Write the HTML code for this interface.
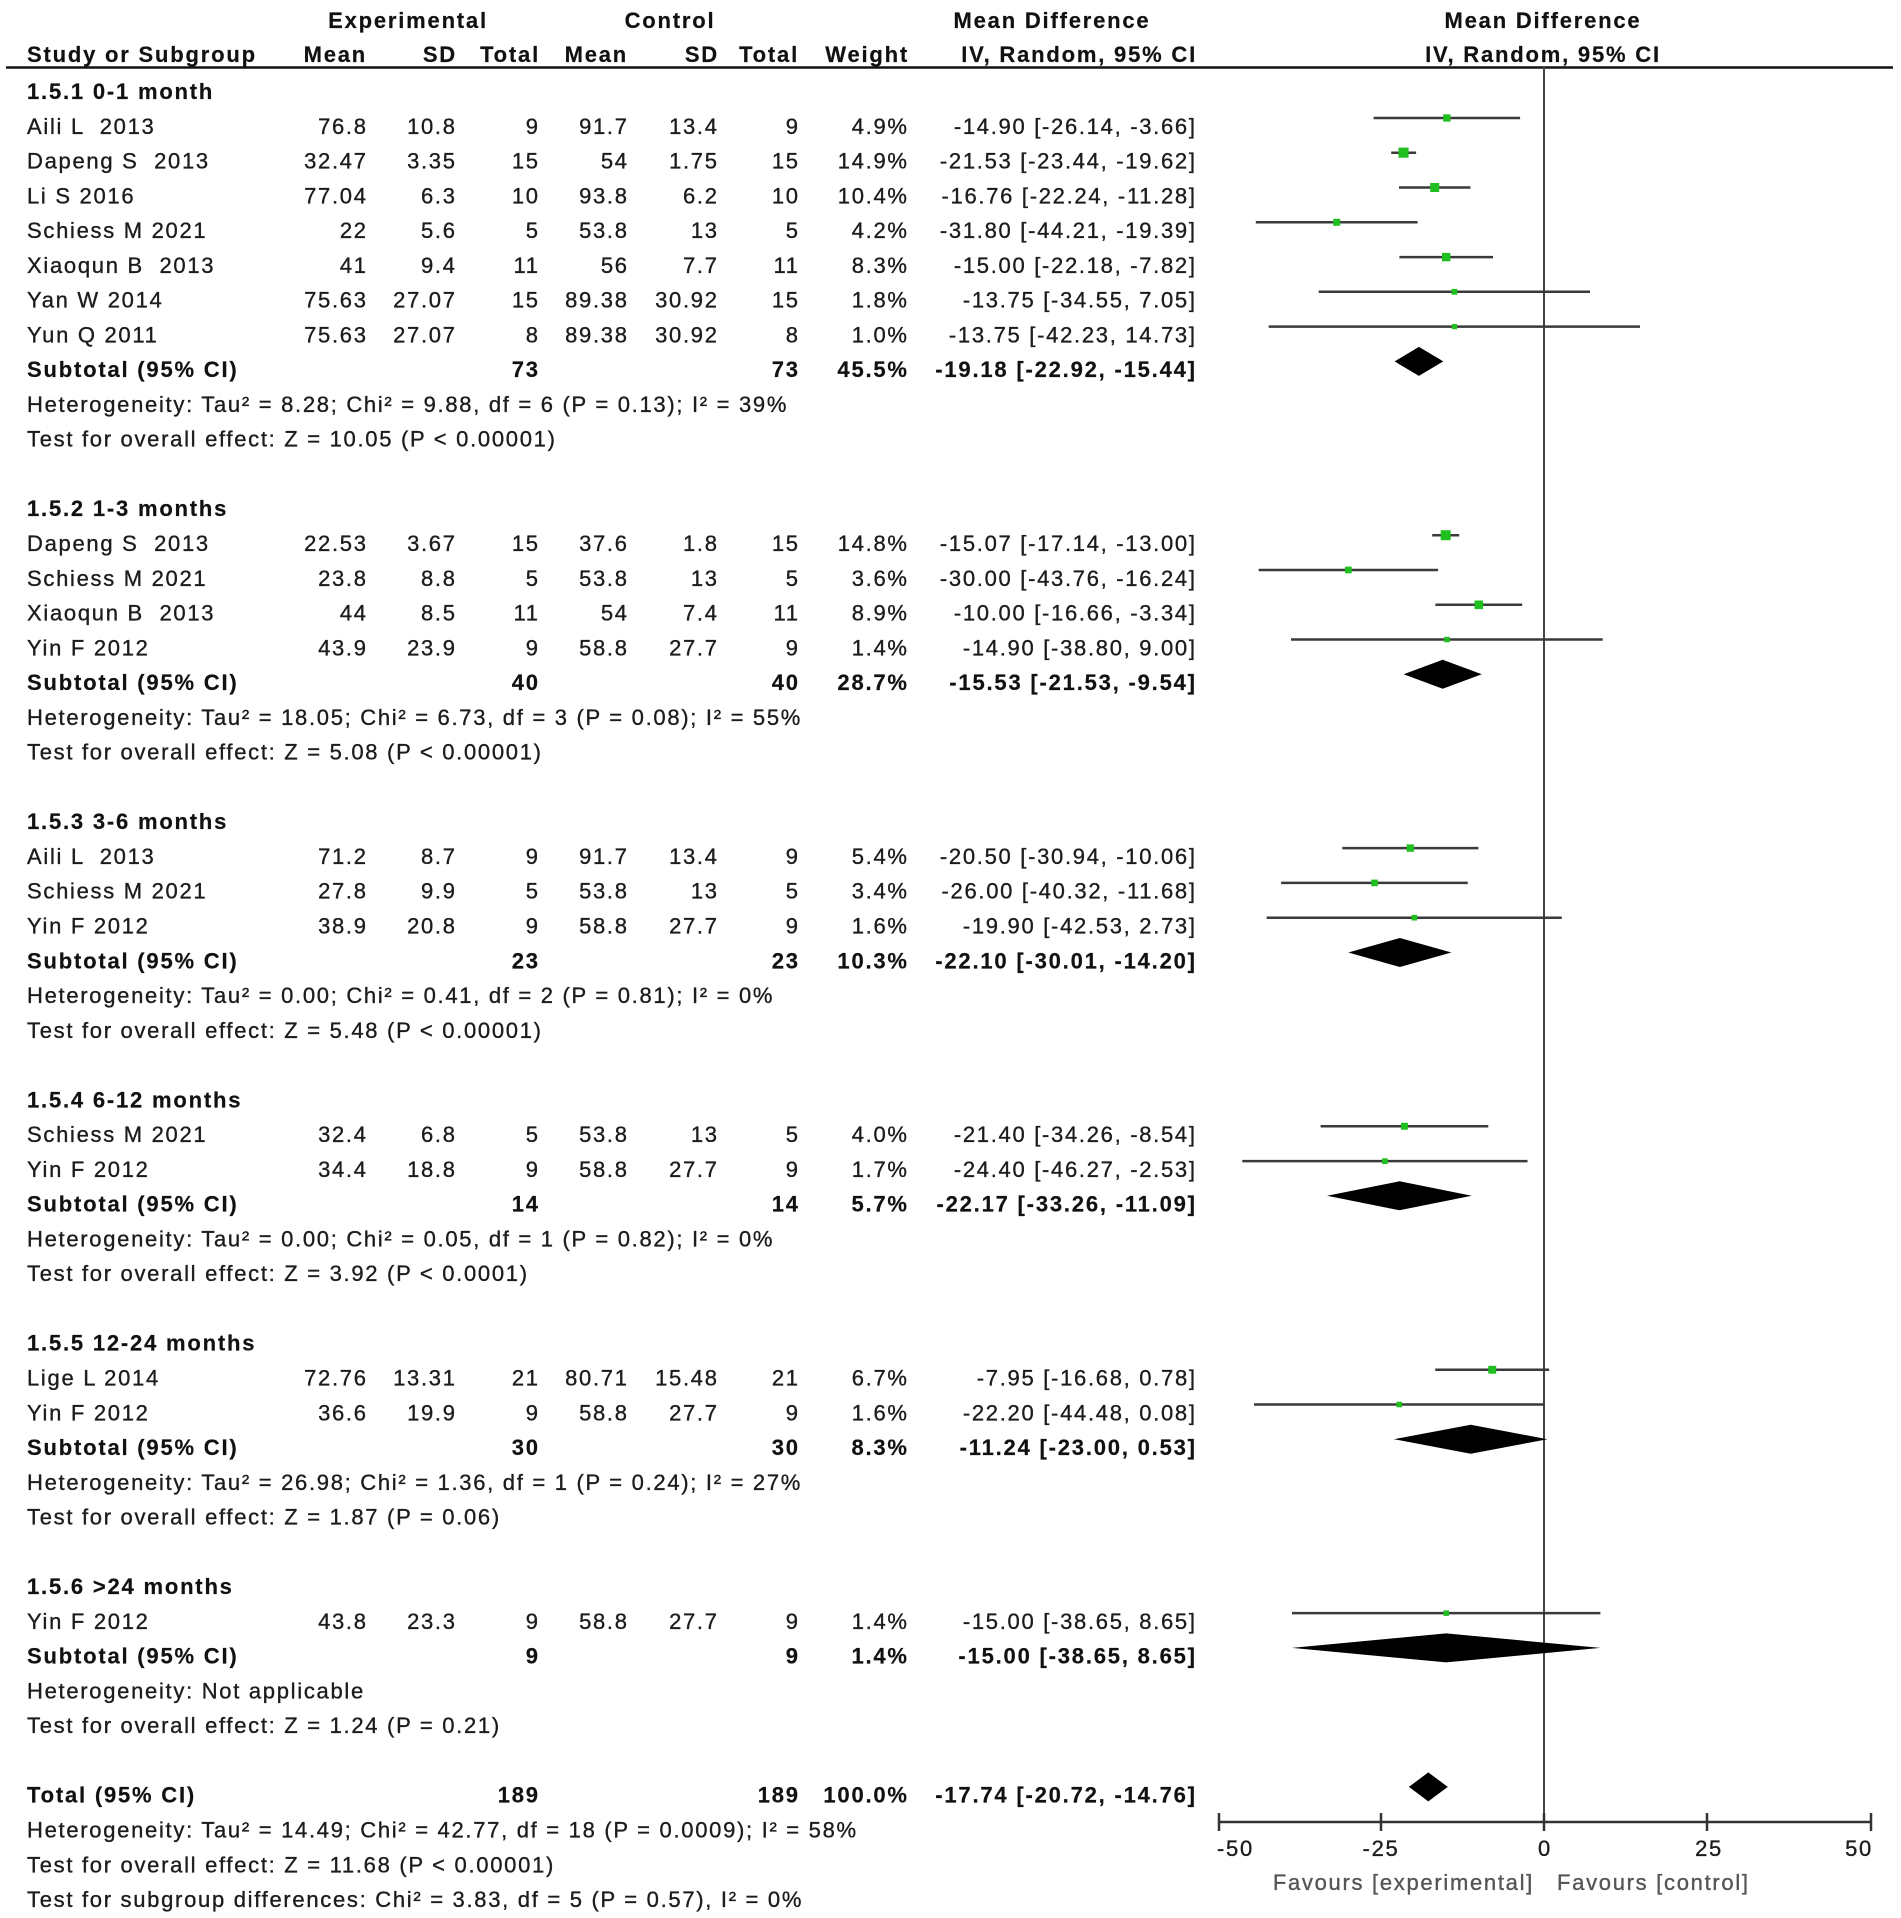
<!DOCTYPE html>
<html><head><meta charset="utf-8"><style>
html,body{margin:0;padding:0;background:#fff;}
svg{display:block;}
text{font-family:"Liberation Sans",Arial,sans-serif;font-size:22px;letter-spacing:1.7px;fill:#1c1c1c;white-space:pre;stroke:#1c1c1c;stroke-width:0.35px;}
.b{font-weight:bold;letter-spacing:1.8px;fill:#111;stroke:#111;stroke-width:0.2px;}
.r{text-anchor:end;}
.m{text-anchor:middle;}
.g{fill:#555;stroke:#555;}
.ci{stroke:#3a3a3a;stroke-width:2.5;}
.mk{fill:#1fbf1f;}
.dm{fill:#000;}
</style></head><body>
<svg width="1901" height="1918" viewBox="0 0 1901 1918" xmlns="http://www.w3.org/2000/svg" xml:space="preserve">
<rect width="1901" height="1918" fill="#fff"/>
<!-- header -->
<text class="b m" x="408" y="28">Experimental</text>
<text class="b m" x="670" y="28">Control</text>
<text class="b m" x="1052" y="28">Mean Difference</text>
<text class="b m" x="1543" y="28">Mean Difference</text>
<text class="b" x="27" y="62">Study or Subgroup</text>
<text class="b r" x="367" y="62">Mean</text>
<text class="b r" x="457" y="62">SD</text>
<text class="b r" x="540" y="62">Total</text>
<text class="b r" x="628" y="62">Mean</text>
<text class="b r" x="719" y="62">SD</text>
<text class="b r" x="799" y="62">Total</text>
<text class="b r" x="909" y="62">Weight</text>
<text class="b r" x="1197" y="62">IV, Random, 95% CI</text>
<text class="b m" x="1543" y="62">IV, Random, 95% CI</text>
<line x1="6" y1="67.5" x2="1893" y2="67.5" stroke="#111" stroke-width="2.5"/>
<!-- zero line and axis -->
<line x1="1544" y1="67" x2="1544" y2="1822" stroke="#444" stroke-width="2"/>
<line x1="1219" y1="1822" x2="1871" y2="1822" stroke="#333" stroke-width="2.5"/>
<g stroke="#333" stroke-width="2.5">
<line x1="1219" y1="1813" x2="1219" y2="1831"/>
<line x1="1381" y1="1813" x2="1381" y2="1831"/>
<line x1="1544" y1="1813" x2="1544" y2="1831"/>
<line x1="1707" y1="1813" x2="1707" y2="1831"/>
<line x1="1871" y1="1813" x2="1871" y2="1831"/>
</g>
<text x="1217" y="1856">-50</text>
<text class="m" x="1381" y="1856">-25</text>
<text class="m" x="1545" y="1856">0</text>
<text class="m" x="1709" y="1856">25</text>
<text class="r" x="1873" y="1856">50</text>
<text class="r g" x="1534" y="1890">Favours [experimental]</text>
<text class="g" x="1557" y="1890">Favours [control]</text>

<!-- Group 1 -->
<text class="b" x="27" y="99">1.5.1 0-1 month</text>
<g>
<text x="27" y="133.8">Aili L  2013</text><text class="r" x="367.7" y="133.8">76.8</text><text class="r" x="456.7" y="133.8">10.8</text><text class="r" x="539.7" y="133.8">9</text><text class="r" x="628.7" y="133.8">91.7</text><text class="r" x="718.7" y="133.8">13.4</text><text class="r" x="799.7" y="133.8">9</text><text class="r" x="908.7" y="133.8">4.9%</text><text class="r" x="1196.7" y="133.8">-14.90 [-26.14, -3.66]</text>
<text x="27" y="168.5">Dapeng S  2013</text><text class="r" x="367.7" y="168.5">32.47</text><text class="r" x="456.7" y="168.5">3.35</text><text class="r" x="539.7" y="168.5">15</text><text class="r" x="628.7" y="168.5">54</text><text class="r" x="718.7" y="168.5">1.75</text><text class="r" x="799.7" y="168.5">15</text><text class="r" x="908.7" y="168.5">14.9%</text><text class="r" x="1196.7" y="168.5">-21.53 [-23.44, -19.62]</text>
<text x="27" y="203.3">Li S 2016</text><text class="r" x="367.7" y="203.3">77.04</text><text class="r" x="456.7" y="203.3">6.3</text><text class="r" x="539.7" y="203.3">10</text><text class="r" x="628.7" y="203.3">93.8</text><text class="r" x="718.7" y="203.3">6.2</text><text class="r" x="799.7" y="203.3">10</text><text class="r" x="908.7" y="203.3">10.4%</text><text class="r" x="1196.7" y="203.3">-16.76 [-22.24, -11.28]</text>
<text x="27" y="238.1">Schiess M 2021</text><text class="r" x="367.7" y="238.1">22</text><text class="r" x="456.7" y="238.1">5.6</text><text class="r" x="539.7" y="238.1">5</text><text class="r" x="628.7" y="238.1">53.8</text><text class="r" x="718.7" y="238.1">13</text><text class="r" x="799.7" y="238.1">5</text><text class="r" x="908.7" y="238.1">4.2%</text><text class="r" x="1196.7" y="238.1">-31.80 [-44.21, -19.39]</text>
<text x="27" y="272.9">Xiaoqun B  2013</text><text class="r" x="367.7" y="272.9">41</text><text class="r" x="456.7" y="272.9">9.4</text><text class="r" x="539.7" y="272.9">11</text><text class="r" x="628.7" y="272.9">56</text><text class="r" x="718.7" y="272.9">7.7</text><text class="r" x="799.7" y="272.9">11</text><text class="r" x="908.7" y="272.9">8.3%</text><text class="r" x="1196.7" y="272.9">-15.00 [-22.18, -7.82]</text>
<text x="27" y="307.6">Yan W 2014</text><text class="r" x="367.7" y="307.6">75.63</text><text class="r" x="456.7" y="307.6">27.07</text><text class="r" x="539.7" y="307.6">15</text><text class="r" x="628.7" y="307.6">89.38</text><text class="r" x="718.7" y="307.6">30.92</text><text class="r" x="799.7" y="307.6">15</text><text class="r" x="908.7" y="307.6">1.8%</text><text class="r" x="1196.7" y="307.6">-13.75 [-34.55, 7.05]</text>
<text x="27" y="342.4">Yun Q 2011</text><text class="r" x="367.7" y="342.4">75.63</text><text class="r" x="456.7" y="342.4">27.07</text><text class="r" x="539.7" y="342.4">8</text><text class="r" x="628.7" y="342.4">89.38</text><text class="r" x="718.7" y="342.4">30.92</text><text class="r" x="799.7" y="342.4">8</text><text class="r" x="908.7" y="342.4">1.0%</text><text class="r" x="1196.7" y="342.4">-13.75 [-42.23, 14.73]</text>
<text class="b" x="27" y="377.2">Subtotal (95% CI)</text><text class="b r" x="539.8" y="377.2">73</text><text class="b r" x="799.8" y="377.2">73</text><text class="b r" x="908.8" y="377.2">45.5%</text><text class="b r" x="1196.8" y="377.2">-19.18 [-22.92, -15.44]</text>
<text x="27" y="411.9">Heterogeneity: Tau² = 8.28; Chi² = 9.88, df = 6 (P = 0.13); I² = 39%</text>
<text x="27" y="446.7">Test for overall effect: Z = 10.05 (P &lt; 0.00001)</text>
</g>
<g>
<line class="ci" x1="1373.6" y1="118" x2="1520.1" y2="118"/><rect class="mk" x="1443.2" y="114.3" width="7.3" height="7.3"/>
<line class="ci" x1="1391.2" y1="152.7" x2="1416.1" y2="152.7"/><rect class="mk" x="1398.5" y="147.6" width="10.1" height="10.1"/>
<line class="ci" x1="1399.0" y1="187.5" x2="1470.5" y2="187.5"/><rect class="mk" x="1430.2" y="183" width="9" height="9"/>
<line class="ci" x1="1255.8" y1="222.3" x2="1417.6" y2="222.3"/><rect class="mk" x="1333.2" y="218.8" width="7" height="7"/>
<line class="ci" x1="1399.4" y1="257.1" x2="1493.0" y2="257.1"/><rect class="mk" x="1442" y="252.9" width="8.4" height="8.4"/>
<line class="ci" x1="1318.7" y1="291.8" x2="1590.0" y2="291.8"/><rect class="mk" x="1451.5" y="288.9" width="5.8" height="5.8"/>
<line class="ci" x1="1268.7" y1="326.6" x2="1640.0" y2="326.6"/><rect class="mk" x="1451.8" y="324" width="5.2" height="5.2"/>
<polygon class="dm" points="1394.6,361.4 1418.9,346.9 1443.3,361.4 1418.9,375.9"/>
</g>

<!-- Group 2 -->
<text class="b" x="27" y="516.2">1.5.2 1-3 months</text>
<g>
<text x="27" y="551">Dapeng S  2013</text><text class="r" x="367.7" y="551">22.53</text><text class="r" x="456.7" y="551">3.67</text><text class="r" x="539.7" y="551">15</text><text class="r" x="628.7" y="551">37.6</text><text class="r" x="718.7" y="551">1.8</text><text class="r" x="799.7" y="551">15</text><text class="r" x="908.7" y="551">14.8%</text><text class="r" x="1196.7" y="551">-15.07 [-17.14, -13.00]</text>
<text x="27" y="585.8">Schiess M 2021</text><text class="r" x="367.7" y="585.8">23.8</text><text class="r" x="456.7" y="585.8">8.8</text><text class="r" x="539.7" y="585.8">5</text><text class="r" x="628.7" y="585.8">53.8</text><text class="r" x="718.7" y="585.8">13</text><text class="r" x="799.7" y="585.8">5</text><text class="r" x="908.7" y="585.8">3.6%</text><text class="r" x="1196.7" y="585.8">-30.00 [-43.76, -16.24]</text>
<text x="27" y="620.6">Xiaoqun B  2013</text><text class="r" x="367.7" y="620.6">44</text><text class="r" x="456.7" y="620.6">8.5</text><text class="r" x="539.7" y="620.6">11</text><text class="r" x="628.7" y="620.6">54</text><text class="r" x="718.7" y="620.6">7.4</text><text class="r" x="799.7" y="620.6">11</text><text class="r" x="908.7" y="620.6">8.9%</text><text class="r" x="1196.7" y="620.6">-10.00 [-16.66, -3.34]</text>
<text x="27" y="655.3">Yin F 2012</text><text class="r" x="367.7" y="655.3">43.9</text><text class="r" x="456.7" y="655.3">23.9</text><text class="r" x="539.7" y="655.3">9</text><text class="r" x="628.7" y="655.3">58.8</text><text class="r" x="718.7" y="655.3">27.7</text><text class="r" x="799.7" y="655.3">9</text><text class="r" x="908.7" y="655.3">1.4%</text><text class="r" x="1196.7" y="655.3">-14.90 [-38.80, 9.00]</text>
<text class="b" x="27" y="690.1">Subtotal (95% CI)</text><text class="b r" x="539.8" y="690.1">40</text><text class="b r" x="799.8" y="690.1">40</text><text class="b r" x="908.8" y="690.1">28.7%</text><text class="b r" x="1196.8" y="690.1">-15.53 [-21.53, -9.54]</text>
<text x="27" y="724.9">Heterogeneity: Tau² = 18.05; Chi² = 6.73, df = 3 (P = 0.08); I² = 55%</text>
<text x="27" y="759.6">Test for overall effect: Z = 5.08 (P &lt; 0.00001)</text>
</g>
<g>
<line class="ci" x1="1432.2" y1="535.2" x2="1459.2" y2="535.2"/><rect class="mk" x="1440.7" y="530.2" width="10" height="10"/>
<line class="ci" x1="1258.7" y1="570" x2="1438.1" y2="570"/><rect class="mk" x="1345" y="566.6" width="6.7" height="6.7"/>
<line class="ci" x1="1435.4" y1="604.8" x2="1522.2" y2="604.8"/><rect class="mk" x="1474.5" y="600.5" width="8.6" height="8.6"/>
<line class="ci" x1="1291.0" y1="639.5" x2="1602.7" y2="639.5"/><rect class="mk" x="1444.2" y="636.8" width="5.5" height="5.5"/>
<polygon class="dm" points="1403.6,674.3 1442.7,659.8 1481.8,674.3 1442.7,688.8"/>
</g>

<!-- Group 3 -->
<text class="b" x="27" y="829.2">1.5.3 3-6 months</text>
<g>
<text x="27" y="863.9">Aili L  2013</text><text class="r" x="367.7" y="863.9">71.2</text><text class="r" x="456.7" y="863.9">8.7</text><text class="r" x="539.7" y="863.9">9</text><text class="r" x="628.7" y="863.9">91.7</text><text class="r" x="718.7" y="863.9">13.4</text><text class="r" x="799.7" y="863.9">9</text><text class="r" x="908.7" y="863.9">5.4%</text><text class="r" x="1196.7" y="863.9">-20.50 [-30.94, -10.06]</text>
<text x="27" y="898.7">Schiess M 2021</text><text class="r" x="367.7" y="898.7">27.8</text><text class="r" x="456.7" y="898.7">9.9</text><text class="r" x="539.7" y="898.7">5</text><text class="r" x="628.7" y="898.7">53.8</text><text class="r" x="718.7" y="898.7">13</text><text class="r" x="799.7" y="898.7">5</text><text class="r" x="908.7" y="898.7">3.4%</text><text class="r" x="1196.7" y="898.7">-26.00 [-40.32, -11.68]</text>
<text x="27" y="933.5">Yin F 2012</text><text class="r" x="367.7" y="933.5">38.9</text><text class="r" x="456.7" y="933.5">20.8</text><text class="r" x="539.7" y="933.5">9</text><text class="r" x="628.7" y="933.5">58.8</text><text class="r" x="718.7" y="933.5">27.7</text><text class="r" x="799.7" y="933.5">9</text><text class="r" x="908.7" y="933.5">1.6%</text><text class="r" x="1196.7" y="933.5">-19.90 [-42.53, 2.73]</text>
<text class="b" x="27" y="968.3">Subtotal (95% CI)</text><text class="b r" x="539.8" y="968.3">23</text><text class="b r" x="799.8" y="968.3">23</text><text class="b r" x="908.8" y="968.3">10.3%</text><text class="b r" x="1196.8" y="968.3">-22.10 [-30.01, -14.20]</text>
<text x="27" y="1003">Heterogeneity: Tau² = 0.00; Chi² = 0.41, df = 2 (P = 0.81); I² = 0%</text>
<text x="27" y="1037.8">Test for overall effect: Z = 5.48 (P &lt; 0.00001)</text>
</g>
<g>
<line class="ci" x1="1342.3" y1="848.1" x2="1478.4" y2="848.1"/><rect class="mk" x="1406.6" y="844.4" width="7.4" height="7.4"/>
<line class="ci" x1="1281.1" y1="882.9" x2="1467.8" y2="882.9"/><rect class="mk" x="1371.2" y="879.6" width="6.6" height="6.6"/>
<line class="ci" x1="1266.7" y1="917.7" x2="1561.8" y2="917.7"/><rect class="mk" x="1411.5" y="914.9" width="5.6" height="5.6"/>
<polygon class="dm" points="1348.3,952.5 1399.9,938 1451.4,952.5 1399.9,967"/>
</g>

<!-- Group 4 -->
<text class="b" x="27" y="1107.3">1.5.4 6-12 months</text>
<g>
<text x="27" y="1142.1">Schiess M 2021</text><text class="r" x="367.7" y="1142.1">32.4</text><text class="r" x="456.7" y="1142.1">6.8</text><text class="r" x="539.7" y="1142.1">5</text><text class="r" x="628.7" y="1142.1">53.8</text><text class="r" x="718.7" y="1142.1">13</text><text class="r" x="799.7" y="1142.1">5</text><text class="r" x="908.7" y="1142.1">4.0%</text><text class="r" x="1196.7" y="1142.1">-21.40 [-34.26, -8.54]</text>
<text x="27" y="1176.9">Yin F 2012</text><text class="r" x="367.7" y="1176.9">34.4</text><text class="r" x="456.7" y="1176.9">18.8</text><text class="r" x="539.7" y="1176.9">9</text><text class="r" x="628.7" y="1176.9">58.8</text><text class="r" x="718.7" y="1176.9">27.7</text><text class="r" x="799.7" y="1176.9">9</text><text class="r" x="908.7" y="1176.9">1.7%</text><text class="r" x="1196.7" y="1176.9">-24.40 [-46.27, -2.53]</text>
<text class="b" x="27" y="1211.6">Subtotal (95% CI)</text><text class="b r" x="539.8" y="1211.6">14</text><text class="b r" x="799.8" y="1211.6">14</text><text class="b r" x="908.8" y="1211.6">5.7%</text><text class="b r" x="1196.8" y="1211.6">-22.17 [-33.26, -11.09]</text>
<text x="27" y="1246.4">Heterogeneity: Tau² = 0.00; Chi² = 0.05, df = 1 (P = 0.82); I² = 0%</text>
<text x="27" y="1281.2">Test for overall effect: Z = 3.92 (P &lt; 0.0001)</text>
</g>
<g>
<line class="ci" x1="1320.6" y1="1126.3" x2="1488.3" y2="1126.3"/><rect class="mk" x="1401" y="1122.8" width="6.9" height="6.9"/>
<line class="ci" x1="1242.3" y1="1161.1" x2="1527.5" y2="1161.1"/><rect class="mk" x="1382" y="1158.3" width="5.7" height="5.7"/>
<polygon class="dm" points="1327.1,1195.8 1399.5,1181.3 1471.7,1195.8 1399.5,1210.3"/>
</g>

<!-- Group 5 -->
<text class="b" x="27" y="1350.7">1.5.5 12-24 months</text>
<g>
<text x="27" y="1385.5">Lige L 2014</text><text class="r" x="367.7" y="1385.5">72.76</text><text class="r" x="456.7" y="1385.5">13.31</text><text class="r" x="539.7" y="1385.5">21</text><text class="r" x="628.7" y="1385.5">80.71</text><text class="r" x="718.7" y="1385.5">15.48</text><text class="r" x="799.7" y="1385.5">21</text><text class="r" x="908.7" y="1385.5">6.7%</text><text class="r" x="1196.7" y="1385.5">-7.95 [-16.68, 0.78]</text>
<text x="27" y="1420.3">Yin F 2012</text><text class="r" x="367.7" y="1420.3">36.6</text><text class="r" x="456.7" y="1420.3">19.9</text><text class="r" x="539.7" y="1420.3">9</text><text class="r" x="628.7" y="1420.3">58.8</text><text class="r" x="718.7" y="1420.3">27.7</text><text class="r" x="799.7" y="1420.3">9</text><text class="r" x="908.7" y="1420.3">1.6%</text><text class="r" x="1196.7" y="1420.3">-22.20 [-44.48, 0.08]</text>
<text class="b" x="27" y="1455">Subtotal (95% CI)</text><text class="b r" x="539.8" y="1455">30</text><text class="b r" x="799.8" y="1455">30</text><text class="b r" x="908.8" y="1455">8.3%</text><text class="b r" x="1196.8" y="1455">-11.24 [-23.00, 0.53]</text>
<text x="27" y="1489.8">Heterogeneity: Tau² = 26.98; Chi² = 1.36, df = 1 (P = 0.24); I² = 27%</text>
<text x="27" y="1524.6">Test for overall effect: Z = 1.87 (P = 0.06)</text>
</g>
<g>
<line class="ci" x1="1435.2" y1="1369.7" x2="1549.1" y2="1369.7"/><rect class="mk" x="1488.3" y="1365.8" width="7.9" height="7.9"/>
<line class="ci" x1="1254.0" y1="1404.5" x2="1544.5" y2="1404.5"/><rect class="mk" x="1396.5" y="1401.7" width="5.6" height="5.6"/>
<polygon class="dm" points="1394.0,1439.2 1470.7,1424.7 1547.5,1439.2 1470.7,1453.7"/>
</g>

<!-- Group 6 -->
<text class="b" x="27" y="1594.1">1.5.6 &gt;24 months</text>
<g>
<text x="27" y="1628.9">Yin F 2012</text><text class="r" x="367.7" y="1628.9">43.8</text><text class="r" x="456.7" y="1628.9">23.3</text><text class="r" x="539.7" y="1628.9">9</text><text class="r" x="628.7" y="1628.9">58.8</text><text class="r" x="718.7" y="1628.9">27.7</text><text class="r" x="799.7" y="1628.9">9</text><text class="r" x="908.7" y="1628.9">1.4%</text><text class="r" x="1196.7" y="1628.9">-15.00 [-38.65, 8.65]</text>
<text class="b" x="27" y="1663.7">Subtotal (95% CI)</text><text class="b r" x="539.8" y="1663.7">9</text><text class="b r" x="799.8" y="1663.7">9</text><text class="b r" x="908.8" y="1663.7">1.4%</text><text class="b r" x="1196.8" y="1663.7">-15.00 [-38.65, 8.65]</text>
<text x="27" y="1698.4">Heterogeneity: Not applicable</text>
<text x="27" y="1733.2">Test for overall effect: Z = 1.24 (P = 0.21)</text>
</g>
<g>
<line class="ci" x1="1292.0" y1="1613.1" x2="1600.4" y2="1613.1"/><rect class="mk" x="1443.5" y="1610.4" width="5.5" height="5.5"/>
<polygon class="dm" points="1292.0,1647.9 1446.2,1633.4 1600.4,1647.9 1446.2,1662.4"/>
</g>

<!-- Total -->
<text class="b" x="27" y="1802.7">Total (95% CI)</text><text class="b r" x="539.8" y="1802.7">189</text><text class="b r" x="799.8" y="1802.7">189</text><text class="b r" x="908.8" y="1802.7">100.0%</text><text class="b r" x="1196.8" y="1802.7">-17.74 [-20.72, -14.76]</text>
<polygon class="dm" points="1408.9,1786.9 1428.3,1772.4 1447.8,1786.9 1428.3,1801.4"/>
<text x="27" y="1837.5">Heterogeneity: Tau² = 14.49; Chi² = 42.77, df = 18 (P = 0.0009); I² = 58%</text>
<text x="27" y="1872.3">Test for overall effect: Z = 11.68 (P &lt; 0.00001)</text>
<text x="27" y="1907">Test for subgroup differences: Chi² = 3.83, df = 5 (P = 0.57), I² = 0%</text>
</svg>
</body></html>
